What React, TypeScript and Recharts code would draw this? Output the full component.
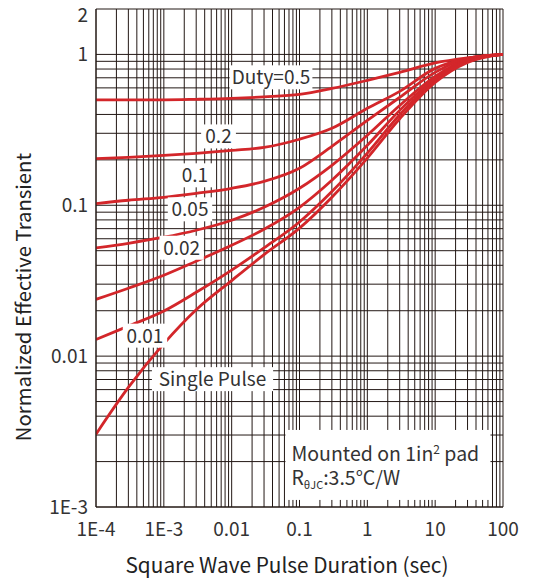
import React from 'react';
import { LineChart, Line, XAxis, YAxis, CartesianGrid, ReferenceDot } from 'recharts';

// Square wave pulse duration (sec)
const pulseDurations = [1e-4, 3e-4, 1e-3, 3e-3, 1e-2, 3e-2, 0.1, 0.3, 1, 3, 10, 30, 100];

// Normalized effective transient thermal impedance for each duty cycle
const duty05 = [0.5, 0.5, 0.5, 0.504, 0.511, 0.523, 0.543, 0.595, 0.673, 0.76, 0.878, 0.948, 1.0];
const duty02 = [0.204, 0.208, 0.214, 0.221, 0.231, 0.242, 0.274, 0.324, 0.439, 0.569, 0.808, 0.941, 1.0];
const duty01 = [0.1026, 0.108, 0.113, 0.12, 0.1296, 0.144, 0.176, 0.246, 0.365, 0.519, 0.76, 0.941, 1.0];
const duty005 = [0.0522, 0.056, 0.0614, 0.0683, 0.0796, 0.097, 0.1296, 0.184, 0.291, 0.459, 0.715, 0.927, 1.0];
const duty002 = [0.0238, 0.0282, 0.0344, 0.0426, 0.0543, 0.0694, 0.097, 0.1464, 0.2496, 0.4257, 0.694, 0.913, 1.0];
const duty001 = [0.0129, 0.0158, 0.0199, 0.0265, 0.0372, 0.0522, 0.0775, 0.1232, 0.2216, 0.3979, 0.673, 0.899, 1.0];
const singlePulse = [0.00304, 0.0062, 0.0121, 0.0203, 0.0317, 0.0471, 0.0706, 0.1132, 0.2055, 0.3745, 0.653, 0.885, 1.0];

const seriesKeys = ['d05', 'd02', 'd01', 'd005', 'd002', 'd001', 'single'];
const seriesValues = [duty05, duty02, duty01, duty005, duty002, duty001, singlePulse];

// Curve labels and where they sit (duration, value)
const curveLabelTexts = ['Duty=0.5', '0.2', '0.1', '0.05', '0.02', '0.01', 'Single Pulse'];
const curveLabelDurations = [0.038, 0.0064, 0.00288, 0.00243, 0.00183, 0.000527, 0.00522];
const curveLabelValues = [0.705, 0.286, 0.158, 0.094, 0.0523, 0.01367, 0.00704];

// Axis ticks
const xMajorTicks = [1e-4, 1e-3, 0.01, 0.1, 1, 10, 100];
const xMajorLabels = ['1E-4', '1E-3', '0.01', '0.1', '1', '10', '100'];
const yMajorTicks = [0.001, 0.01, 0.1, 1, 2];
const yMajorLabels = ['1E-3', '0.01', '0.1', '1', '2'];
const minorMultipliers = [2, 3, 4, 5, 6, 7, 8, 9];

// Note annotation position
const noteDuration = 1.98;
const noteValue = 0.0019;

const buildGrid = (decades: number[], last: number[]) => {
  const out: number[] = [];
  decades.forEach((d) => {
    out.push(d);
    minorMultipliers.forEach((m) => out.push(d * m));
  });
  return out.concat(last);
};
const xGridTicks = buildGrid(xMajorTicks.slice(0, -1), [100]);
const yGridTicks = buildGrid([0.001, 0.01, 0.1], [1, 2]);

const data = pulseDurations.map((t, i) => {
  const row: Record<string, number> = { t };
  seriesKeys.forEach((k, j) => {
    row[k] = seriesValues[j][i];
  });
  return row;
});

const FONT = '"Noto Sans CJK SC", "Noto Sans", sans-serif';
const TEXT_COLOR = '#333';
const RED = '#d3262a';
const GRID = '#231815';

const findMajor = (v: number, majors: number[]) =>
  majors.findIndex((m) => Math.abs(v / m - 1) < 1e-6);

const XTick = (props: any) => {
  const { x, y, payload } = props;
  const idx = findMajor(payload.value, xMajorTicks);
  if (idx < 0) return <g />;
  return (
    <text x={x} y={y + 29} textAnchor="middle" fontFamily={FONT} fontSize={19} fill={TEXT_COLOR}>
      {xMajorLabels[idx]}
    </text>
  );
};

const YTick = (props: any) => {
  const { x, y, payload } = props;
  const idx = findMajor(payload.value, yMajorTicks);
  if (idx < 0) return <g />;
  const shift = yMajorLabels[idx] === '2' ? 6 : 0;
  return (
    <text x={x - 8} y={y + 7 + shift} textAnchor="end" fontFamily={FONT} fontSize={19} fill={TEXT_COLOR}>
      {yMajorLabels[idx]}
    </text>
  );
};

const makeLabelShape = (text: string) => (props: any) => {
  const { cx, cy } = props;
  const w = text.length * 9.6 + 6;
  const h = 24;
  return (
    <g>
      <rect x={cx - w / 2} y={cy - h / 2} width={w} height={h} fill="#fff" />
      <text x={cx} y={cy + 7} textAnchor="middle" fontFamily={FONT} fontSize={19} fill={TEXT_COLOR}>
        {text}
      </text>
    </g>
  );
};

const noteShape = (props: any) => {
  const { cx, cy } = props;
  return (
    <g>
      <rect x={cx - 102} y={cy - 35} width={205} height={70} fill="#fff" />
      <text x={cx - 96} y={cy - 4} fontFamily={FONT} fontSize={19.5} fill={TEXT_COLOR}>
        Mounted on 1in
        <tspan dy={-7} fontSize={12}>2</tspan>
        <tspan dy={7}> pad</tspan>
      </text>
      <text x={cx - 96} y={cy + 20} fontFamily={FONT} fontSize={19.5} fill={TEXT_COLOR}>
        R
        <tspan dy={4} fontSize={11}>θJC</tspan>
        <tspan dy={-4}>:3.5°C/W</tspan>
      </text>
    </g>
  );
};

export default function App() {
  return (
    <div style={{ position: 'absolute', left: 0, top: 0, width: 534, height: 578, background: '#fff' }}>
      <LineChart
        width={534}
        height={578}
        data={data}
        margin={{ top: 9, right: 31, left: 0, bottom: 0 }}
      >
        <CartesianGrid stroke={GRID} strokeWidth={1} />
        <XAxis
          dataKey="t"
          type="number"
          scale="log"
          domain={[1e-4, 100]}
          ticks={xGridTicks}
          interval={0}
          allowDataOverflow
          height={71}
          tickLine={false}
          tickSize={0}
          tickMargin={0}
          axisLine={{ stroke: GRID }}
          tick={(p: any) => <XTick {...p} />}
        />
        <YAxis
          type="number"
          scale="log"
          domain={[0.001, 2]}
          ticks={yGridTicks}
          interval={0}
          allowDataOverflow
          width={96}
          tickLine={false}
          tickSize={0}
          tickMargin={0}
          axisLine={{ stroke: GRID }}
          tick={(p: any) => <YTick {...p} />}
        />
        {seriesKeys.map((k) => (
          <Line
            key={k}
            dataKey={k}
            type="monotone"
            stroke={RED}
            strokeWidth={2.8}
            dot={false}
            activeDot={false}
            isAnimationActive={false}
          />
        ))}
        {curveLabelTexts.map((txt, i) => (
          <ReferenceDot
            key={txt}
            x={curveLabelDurations[i]}
            y={curveLabelValues[i]}
            r={0}
            zIndex={2000}
            shape={makeLabelShape(txt)}
          />
        ))}
        <ReferenceDot x={noteDuration} y={noteValue} r={0} zIndex={2000} shape={noteShape} />
      </LineChart>
      <div
        style={{
          position: 'absolute',
          left: 0,
          top: 552,
          width: 574,
          textAlign: 'center',
          fontFamily: FONT,
          fontSize: 20.8,
          color: '#222',
          lineHeight: '24px',
          whiteSpace: 'nowrap',
        }}
      >
        Square Wave Pulse Duration (sec)
      </div>
      <div
        style={{
          position: 'absolute',
          left: 22,
          top: 297,
          transform: 'translate(-50%, -50%) rotate(-90deg)',
          fontFamily: FONT,
          fontSize: 20.3,
          color: '#222',
          lineHeight: '24px',
          whiteSpace: 'nowrap',
        }}
      >
        Normalized Effective Transient
      </div>
    </div>
  );
}
